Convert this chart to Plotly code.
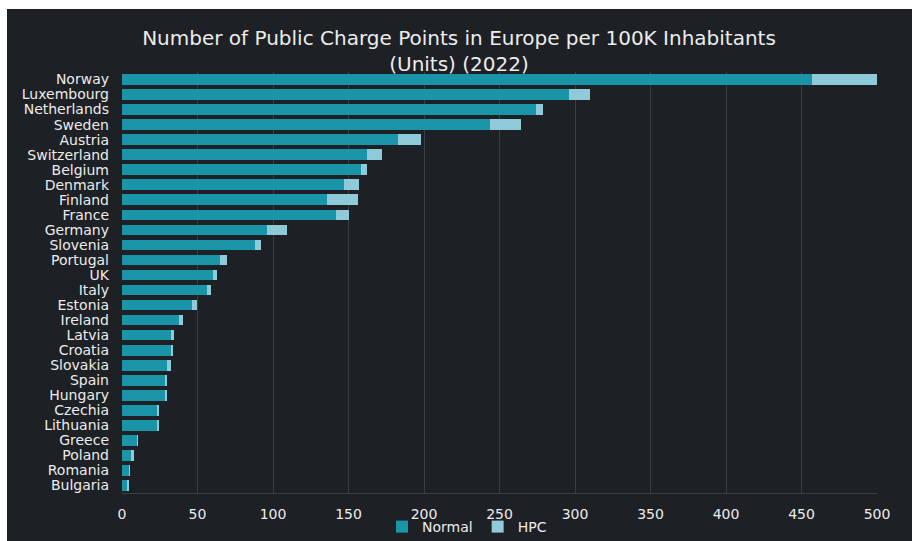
import plotly.graph_objects as go

countries = ["Norway", "Luxembourg", "Netherlands", "Sweden", "Austria", "Switzerland",
             "Belgium", "Denmark", "Finland", "France", "Germany", "Slovenia", "Portugal",
             "UK", "Italy", "Estonia", "Ireland", "Latvia", "Croatia", "Slovakia", "Spain",
             "Hungary", "Czechia", "Lithuania", "Greece", "Poland", "Romania", "Bulgaria"]
normal = [457, 296, 274, 244, 183, 162, 158, 147, 136, 142, 96, 88, 65, 60.5, 56.5,
          46.5, 38, 33, 32.5, 30, 28.5, 29, 23.6, 23.6, 10, 6.6, 5, 3.5]
hpc = [43, 14, 5, 20, 15, 10, 4, 10, 20, 8, 13, 4, 4.3, 2.5, 2.5,
       3, 2.4, 1.2, 1.5, 2.2, 1.5, 1, 0.7, 0.9, 0.3, 1.1, 0.2, 0.8]
x_ticks = [0, 50, 100, 150, 200, 250, 300, 350, 400, 450, 500]
title_text = "Number of Public Charge Points in Europe per 100K Inhabitants<br>(Units) (2022)"

BG = "#1d2024"
TEAL = "#1a95a7"
LIGHT = "#8ecad7"
TXT = "#ececec"
GRID = "#3a3d42"
FONT = "DejaVu Sans"

W, H = 912, 541
ML, MT = 122, 72
PW, PH = 755, 421
MR = W - ML - PW
MB = H - MT - PH


def cx(p):
    return p / W


def cy(p):
    return 1 - p / H


def px(p):
    return (p - ML) / PW


def py(p):
    return (MT + PH - p) / PH


fig = go.Figure()
fig.add_trace(go.Bar(y=countries, x=normal, orientation="h", name="Normal",
                     marker=dict(color=TEAL, line=dict(width=0))))
fig.add_trace(go.Bar(y=countries, x=hpc, orientation="h", name="HPC",
                     marker=dict(color=LIGHT, line=dict(width=0))))

# thin white page border at the top and left, as in the source screenshot
shapes = [
    dict(type="rect", xref="paper", yref="paper", x0=px(-2), x1=px(7),
         y0=py(H + 2), y1=py(-2), fillcolor="white", line=dict(width=0), layer="below"),
    dict(type="rect", xref="paper", yref="paper", x0=px(-2), x1=px(W + 2),
         y0=py(9), y1=py(-2), fillcolor="white", line=dict(width=0), layer="below"),
]

fig.update_layout(
    width=W, height=H,
    margin=dict(l=ML, r=MR, t=MT, b=MB, pad=0, autoexpand=False),
    paper_bgcolor=BG, plot_bgcolor=BG,
    barmode="stack", bargap=0.29,
    font=dict(family=FONT, color=TXT, size=14),
    title=dict(text=title_text, x=cx(459), xref="container", xanchor="center",
               y=cy(45), yref="container", yanchor="top",
               font=dict(family=FONT, size=20, color=TXT)),
    xaxis=dict(range=[0, 500], tickvals=x_ticks, showgrid=True, gridcolor=GRID,
               gridwidth=1, zeroline=False, showline=True, linecolor=GRID,
               tickfont=dict(size=14, color=TXT), ticks="", ticklabelstandoff=8,
               fixedrange=True),
    yaxis=dict(autorange="reversed", categoryorder="array", categoryarray=countries,
               dtick=1, showgrid=False, zeroline=False, ticks="", ticklabelstandoff=12,
               tickfont=dict(size=14, color=TXT)),
    legend=dict(orientation="h", traceorder="normal", xref="container", yref="container",
                x=cx(467), xanchor="center", y=cy(527), yanchor="middle",
                font=dict(size=14, color=TXT), bgcolor="rgba(0,0,0,0)",
                itemwidth=30, tracegroupgap=0),
    shapes=shapes,
    showlegend=True,
)

fig.write_html("out.html", config={"displayModeBar": False}, post_script=(
    "document.documentElement.style.overflow='hidden';"
    "document.body.style.margin='0';"))
